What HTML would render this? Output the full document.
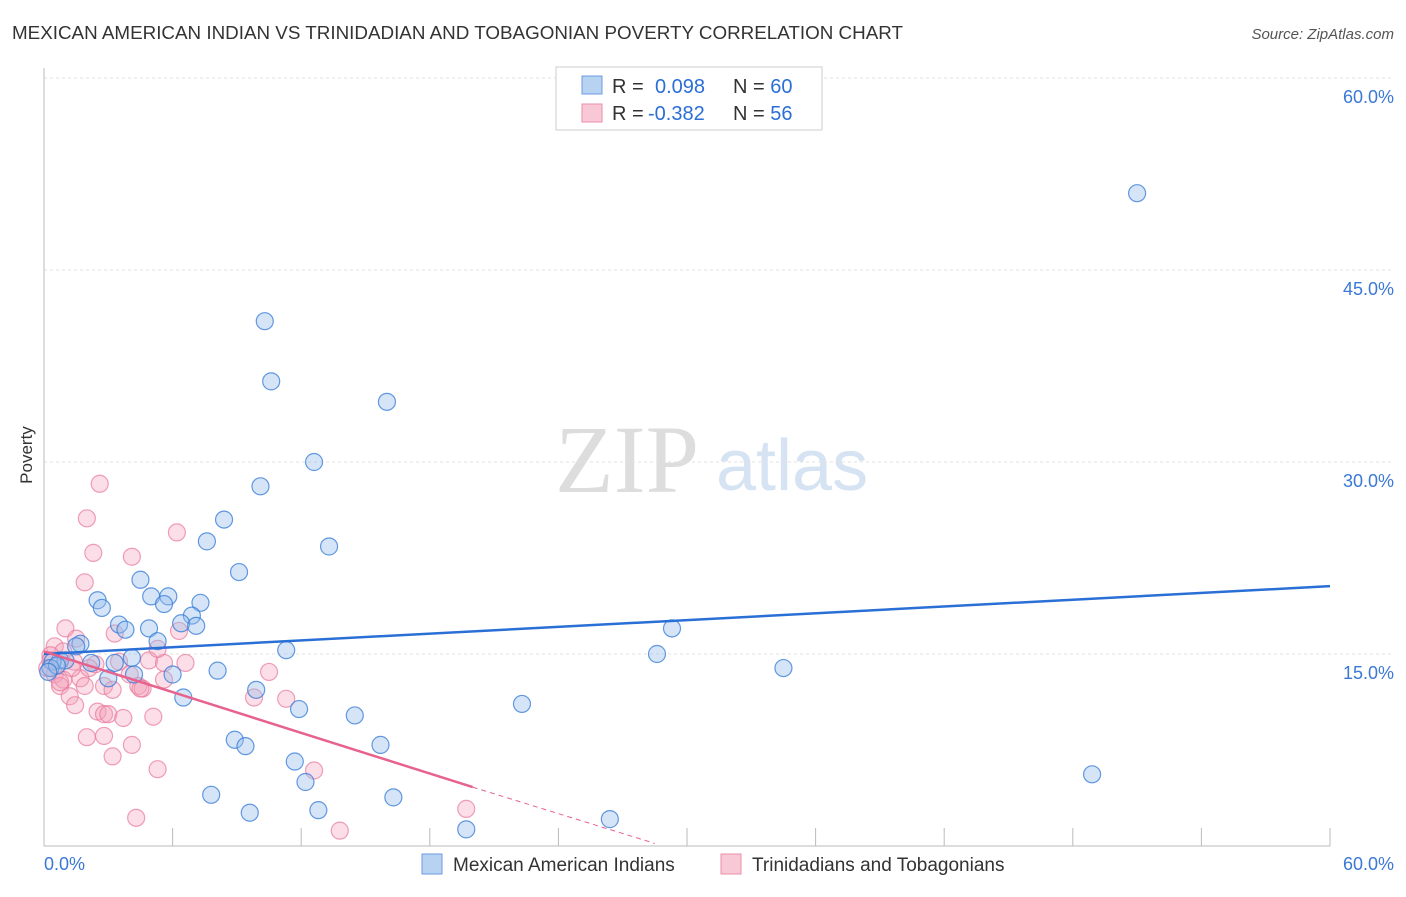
<!DOCTYPE html>
<html><head><meta charset="utf-8"><style>
body{margin:0;background:#fff;font-family:"Liberation Sans",sans-serif}
</style></head><body>
<svg id="c" width="1406" height="892" xmlns="http://www.w3.org/2000/svg">
<text x="12" y="39" font-size="18" fill="#333" textLength="891" lengthAdjust="spacingAndGlyphs">MEXICAN AMERICAN INDIAN VS TRINIDADIAN AND TOBAGONIAN POVERTY CORRELATION CHART</text>
<text x="1394" y="39" font-size="15" fill="#555" font-style="italic" text-anchor="end">Source: ZipAtlas.com</text>
<text x="32" y="455" font-size="17" fill="#333" transform="rotate(-90 32 455)" text-anchor="middle">Poverty</text>
<text x="555" y="492" font-size="96" fill="#ddd" font-family="Liberation Serif,serif">ZIP</text>
<text x="716" y="490" font-size="72" fill="#d6e3f3">atlas</text>
<g id="grid"></g><g id="pts"></g><g id="lines"></g>
<g>
<rect x="556" y="67" width="266" height="63" fill="#fff" stroke="#ccc"/>
<rect x="582" y="76" width="20" height="18" fill="#b8d2f2" stroke="#6a9be0"/>
<rect x="582" y="104" width="20" height="18" fill="#f9c8d6" stroke="#ea8fab"/>
<text x="612" y="93" font-size="20" fill="#333">R = <tspan x="655" fill="#2a6ed6">0.098</tspan><tspan x="733">N = </tspan><tspan fill="#2a6ed6">60</tspan></text>
<text x="612" y="120" font-size="20" fill="#333">R = <tspan x="648" fill="#2a6ed6">-0.382</tspan><tspan x="733">N = </tspan><tspan fill="#2a6ed6">56</tspan></text>
</g>
<g>
<rect x="422" y="854" width="20" height="20" fill="#b8d2f2" stroke="#6a9be0"/>
<text x="453" y="871" font-size="19" fill="#333">Mexican American Indians</text>
<rect x="721" y="854" width="20" height="20" fill="#f9c8d6" stroke="#ea8fab"/>
<text x="752" y="871" font-size="19" fill="#333">Trinidadians and Tobagonians</text>
</g>
</svg>
<script>
const xTicks=[0,60];
const yTicks=[15,30,45,60];
const blueX=[51,10.3,10.6,16,12.6,10.1,8.4,13.3,7.6,9.1,4.5,2.5,2.7,5,5.8,5.6,7.3,6.9,6.4,7.1,3.5,3.8,4.9,5.3,1.7,1.5,11.3,29.3,28.6,34.5,0.75,1,0.4,2.2,4.1,3.3,4.2,3,6,8.1,9.9,6.5,11.9,14.5,22.3,8.9,9.4,15.7,11.7,12.2,48.9,7.8,9.6,12.8,16.3,19.7,26.4,0.3,0.6,0.2];
const blueY=[51,41,36.3,34.7,30,28.1,25.5,23.4,23.8,21.4,20.8,19.2,18.6,19.5,19.5,18.9,19,18,17.4,17.2,17.3,16.9,17,16,15.8,15.6,15.3,17,15,13.9,14.5,14.5,14.4,14.3,14.7,14.3,13.4,13.1,13.4,13.7,12.2,11.6,10.7,10.2,11.1,8.3,7.8,7.9,6.6,5,5.6,4,2.6,2.8,3.8,1.3,2.1,13.9,14.1,13.6];
const pinkX=[2.6,2,2.3,1.9,6.2,4.1,1,1.5,0.5,0.9,0.3,1.4,2.4,3.5,0.15,0.5,0.9,1.7,2.8,4,4.9,5.6,6.6,5.3,6.3,3.3,0.75,1.2,1.9,2.5,2.8,3,3.7,5.1,4.4,4.6,5.6,10.5,9.8,11.3,2,2.8,4.1,3.2,5.3,12.6,4.3,19.7,13.8,0.75,1.3,0.3,4.5,3.2,1.45,2.1];
const pinkY=[28.3,25.6,22.9,20.6,24.5,22.6,17,16.2,15.6,15.2,14.9,14.4,14.2,14.4,13.9,13.4,13,13.1,12.5,13.4,14.5,14.3,14.3,15.4,16.8,16.6,12.5,11.7,12.5,10.5,10.3,10.3,10,10.1,12.5,12.3,13,13.6,11.6,11.5,8.5,8.6,7.9,7,6,5.9,2.2,2.9,1.2,12.8,13.9,14.5,12.3,12.2,11,13.9];
const X=v=>44+v*1286/60, Y=v=>846-v*12.8;
const NS='http://www.w3.org/2000/svg';
function mk(t,a,p){const e=document.createElementNS(NS,t);for(const k in a)e.setAttribute(k,a[k]);p.appendChild(e);return e;}
const grid=document.getElementById('grid');
yTicks.forEach(t=>{
 const l=mk('line',{x1:44,x2:1394,y1:Y(t),y2:Y(t),stroke:'#e2e2e2','stroke-dasharray':'3,3'},grid);
 
 
 const tx=mk('text',{x:1394,y:Y(t)+25,'font-size':18,fill:'#3a78d6','text-anchor':'end'},grid);
 tx.textContent=t.toFixed(1)+'%';
 
 
});
mk('line',{x1:44,x2:44,y1:68,y2:846,stroke:'#bbb'},grid);
mk('line',{x1:44,x2:1330,y1:846,y2:846,stroke:'#bbb'},grid);
for(let i=1;i<=10;i++){mk('line',{x1:44+i*128.6,x2:44+i*128.6,y1:828,y2:846,stroke:'#bbb'},grid);}
xTicks.forEach((t,i)=>{
 const tx=mk('text',{x:i?1394:44,y:870,'font-size':18,fill:'#3a78d6','text-anchor':i?'end':'start'},grid);
 tx.textContent=t.toFixed(1)+'%';
 
 
});
const pts=document.getElementById('pts');
pinkX.forEach((v,i)=>{
 const c=mk('circle',{cx:X(v),cy:Y(pinkY[i]),r:8.5,fill:'rgba(244,160,186,0.35)',stroke:'rgba(232,120,155,0.7)','stroke-width':1.2},pts);
 
 
});
blueX.forEach((v,i)=>{
 const c=mk('circle',{cx:X(v),cy:Y(blueY[i]),r:8.5,fill:'rgba(150,190,235,0.4)',stroke:'rgba(50,120,215,0.75)','stroke-width':1.2},pts);
 
 
});
const ln=document.getElementById('lines');
const b=mk('line',{x1:X(0),y1:Y(15),x2:X(60),y2:Y(20.3),stroke:'#2a6fd6','stroke-width':2.5},ln);


const p=mk('line',{x1:X(0),y1:Y(15.2),x2:X(20),y2:Y(4.6),stroke:'#e8628e','stroke-width':2.5},ln);


const pd=mk('line',{x1:X(20),y1:Y(4.6),x2:X(28.5),y2:Y(0.2),stroke:'#e8628e','stroke-width':1,'stroke-dasharray':'5,4'},ln);


</script>
</body></html>
